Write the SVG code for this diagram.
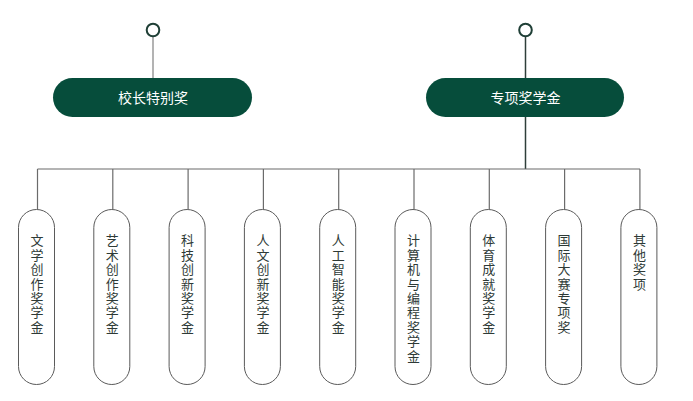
<svg xmlns="http://www.w3.org/2000/svg" width="693" height="401" viewBox="0 0 693 401">
<style>
.top{fill:#064d3b}
.toptxt{fill:#ffffff;font-family:"Noto Sans CJK SC","Noto Sans",sans-serif;font-size:14px;text-anchor:middle}
.dot{fill:#ffffff;stroke:#1f3f36;stroke-width:2}
.leaf{fill:#ffffff;stroke:#5a5a5a;stroke-width:1}
.leaftxt{fill:#2e3a36;font-family:"Noto Sans CJK SC","Noto Sans",sans-serif;font-size:13px;writing-mode:vertical-rl;text-orientation:upright;letter-spacing:1.4px}
.ln{stroke:#6b6b6b;stroke-width:1.2;fill:none}
</style>
<rect width="693" height="401" fill="#ffffff"/>
<g id="connectors">
<line x1="153" y1="37" x2="153" y2="78" stroke="#9a9a9a" stroke-width="1.5"/>
<line x1="525.5" y1="37" x2="525.5" y2="78" stroke="#2f3f3a" stroke-width="1.5"/>
<line x1="525.5" y1="117" x2="525.5" y2="169" stroke="#2f3f3a" stroke-width="1.5"/>
<line class="ln" x1="37.5" y1="169" x2="640" y2="169"/>
<line class="ln" x1="37.5" y1="169" x2="37.5" y2="209"/>
<line class="ln" x1="112.8" y1="169" x2="112.8" y2="209"/>
<line class="ln" x1="188.1" y1="169" x2="188.1" y2="209"/>
<line class="ln" x1="263.4" y1="169" x2="263.4" y2="209"/>
<line class="ln" x1="338.7" y1="169" x2="338.7" y2="209"/>
<line class="ln" x1="414" y1="169" x2="414" y2="209"/>
<line class="ln" x1="489.3" y1="169" x2="489.3" y2="209"/>
<line class="ln" x1="564.6" y1="169" x2="564.6" y2="209"/>
<line class="ln" x1="639.9" y1="169" x2="639.9" y2="209"/>
<circle class="dot" cx="153" cy="30" r="6.3"/>
<circle class="dot" cx="525.5" cy="30" r="6.3"/>
</g>
<g id="n-xiaozhang">
<rect class="top" x="53" y="78" width="199" height="39" rx="19.5"/>
<text class="toptxt" x="153" y="103">校长特别奖</text>
</g>
<g id="n-zhuanxiang">
<rect class="top" x="426" y="78" width="198" height="39" rx="19.5"/>
<text class="toptxt" x="525.5" y="103">专项奖学金</text>
</g>
<g id="n1">
<rect class="leaf" x="18.5" y="209.5" width="36" height="175" rx="18"/>
<text class="leaftxt" x="37" y="234">文学创作奖学金</text>
</g>
<g id="n2">
<rect class="leaf" x="93.8" y="209.5" width="36" height="175" rx="18"/>
<text class="leaftxt" x="112.3" y="234">艺术创作奖学金</text>
</g>
<g id="n3">
<rect class="leaf" x="169.1" y="209.5" width="36" height="175" rx="18"/>
<text class="leaftxt" x="187.6" y="234">科技创新奖学金</text>
</g>
<g id="n4">
<rect class="leaf" x="244.4" y="209.5" width="36" height="175" rx="18"/>
<text class="leaftxt" x="262.9" y="234">人文创新奖学金</text>
</g>
<g id="n5">
<rect class="leaf" x="319.7" y="209.5" width="36" height="175" rx="18"/>
<text class="leaftxt" x="338.2" y="234">人工智能奖学金</text>
</g>
<g id="n6">
<rect class="leaf" x="395" y="209.5" width="36" height="175" rx="18"/>
<text class="leaftxt" x="413.5" y="234">计算机与编程奖学金</text>
</g>
<g id="n7">
<rect class="leaf" x="470.3" y="209.5" width="36" height="175" rx="18"/>
<text class="leaftxt" x="488.8" y="234">体育成就奖学金</text>
</g>
<g id="n8">
<rect class="leaf" x="545.6" y="209.5" width="36" height="175" rx="18"/>
<text class="leaftxt" x="564.1" y="234">国际大赛专项奖</text>
</g>
<g id="n9">
<rect class="leaf" x="620.9" y="209.5" width="36" height="175" rx="18"/>
<text class="leaftxt" x="639.4" y="234">其他奖项</text>
</g>
</svg>
